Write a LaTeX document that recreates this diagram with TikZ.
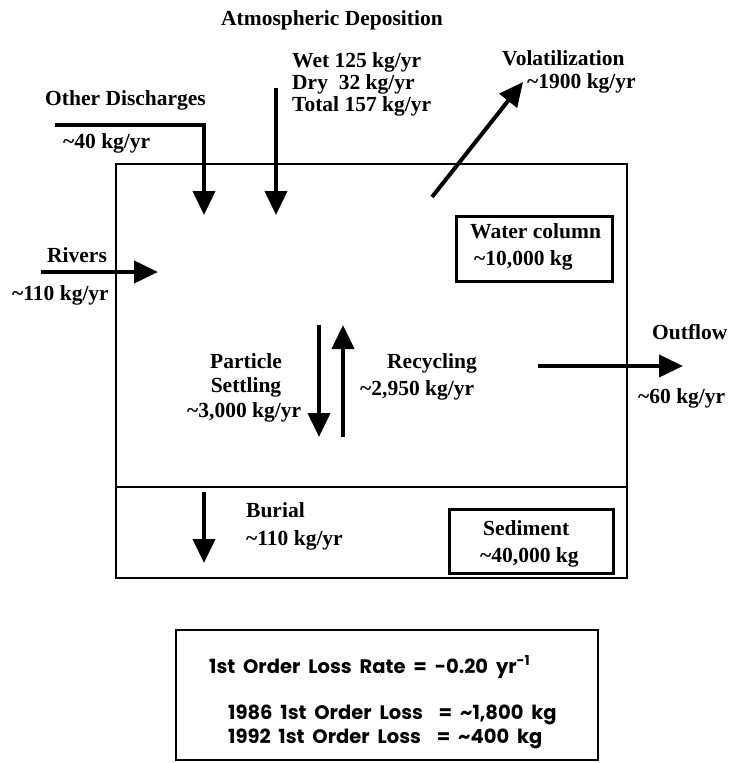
\documentclass[tikz,border=0pt]{standalone}
\usepackage{fontspec}
\setmainfont{Liberation Serif}
\newfontfamily\geofont{Poppins}[WordSpace=1.9]
\usetikzlibrary{arrows.meta}
\newcommand{\tl}{\textasciitilde}
\begin{document}
\begin{tikzpicture}[x=1pt,y=-1pt,
  lbl/.style={font=\bfseries\fontsize{21.5}{23}\selectfont, inner sep=0pt, anchor=base west},
  geo/.style={font=\geofont\bfseries\fontsize{19.5}{21}\selectfont, inner sep=0pt, anchor=base west},
  flow/.style={line width=4pt, -{Triangle[width=22pt,length=24pt]}},
  frame/.style={draw, line width=2pt},
  tag/.style={draw, line width=3pt}]
\useasboundingbox (0,0) rectangle (731,763);
% compartments
\draw[frame] (116,164) rectangle (627,578);
\coordinate (divL) at (116,487);
\coordinate (divR) at (627,487);
\draw[frame] (divL) -- (divR);
\draw[tag] (456,216) rectangle (612,281);
\draw[tag] (449,509) rectangle (613,573);
\draw[frame] (176,630) rectangle (598,760);
% coordinates for flows
\coordinate (odS) at (55,125);
\coordinate (odC) at (204,125);
\coordinate (odE) at (204,215);
\coordinate (adS) at (276,88);
\coordinate (adE) at (276,215);
\coordinate (voS) at (432,197);
\coordinate (voE) at (523,82);
\coordinate (rvS) at (41,272);
\coordinate (rvE) at (158,272);
\coordinate (psS) at (319,325);
\coordinate (psE) at (319,437);
\coordinate (rcS) at (343,437);
\coordinate (rcE) at (343,325);
\coordinate (ofS) at (538,366);
\coordinate (ofE) at (683,366);
\coordinate (buS) at (204,492);
\coordinate (buE) at (204,563);
\draw[flow] (odS) -- (odC) -- (odE);
\draw[flow] (adS) -- (adE);
\draw[flow] (voS) -- (voE);
\draw[flow] (rvS) -- (rvE);
\draw[flow] (psS) -- (psE);
\draw[flow] (rcS) -- (rcE);
\draw[flow] (ofS) -- (ofE);
\draw[flow] (buS) -- (buE);
% labels
\node[lbl] (atm) at (221,25) {Atmospheric Deposition};
\node[lbl] (wet) at (292,67) {Wet 125 kg/yr};
\node[lbl] (dry) at (292,89) {Dry~~32 kg/yr};
\node[lbl] (tot) at (292,111) {Total 157 kg/yr};
\node[lbl] (oth) at (45,105) {Other Discharges};
\node[lbl] (othv) at (63,148) {\tl40 kg/yr};
\node[lbl] (vol) at (502,65) {Volatilization};
\node[lbl] (volv) at (527,88) {\tl1900 kg/yr};
\node[lbl] (riv) at (47,262) {Rivers};
\node[lbl] (rivv) at (12,300) {\tl110 kg/yr};
\node[lbl,anchor=base] (par) at (246,368) {Particle};
\node[lbl,anchor=base] (set) at (246,392) {Settling};
\node[lbl] (parv) at (187,417) {\tl3,000 kg/yr};
\node[lbl] (rec) at (387,368) {Recycling};
\node[lbl] (recv) at (360,395) {\tl2,950 kg/yr};
\node[lbl] (out) at (652,339) {Outflow};
\node[lbl] (outv) at (638,403) {\tl60 kg/yr};
\node[lbl] (wc) at (470,238) {Water column};
\node[lbl] (wcv) at (474,265) {\tl10,000 kg};
\node[lbl] (bur) at (246,517) {Burial};
\node[lbl] (burv) at (246,545) {\tl110 kg/yr};
\node[lbl] (sed) at (483,535) {Sediment};
\node[lbl] (sedv) at (480,562) {\tl40,000 kg};
\node[geo] (rate) at (209,673) {1st Order Loss Rate = -0.20 yr\textsuperscript{-1}};
\node[geo] (l86) at (228,719) {1986 1st Order Loss~ = \tl1,800 kg};
\node[geo] (l92) at (228,743) {1992 1st Order Loss~ = \tl400 kg};
\end{tikzpicture}
\end{document}
